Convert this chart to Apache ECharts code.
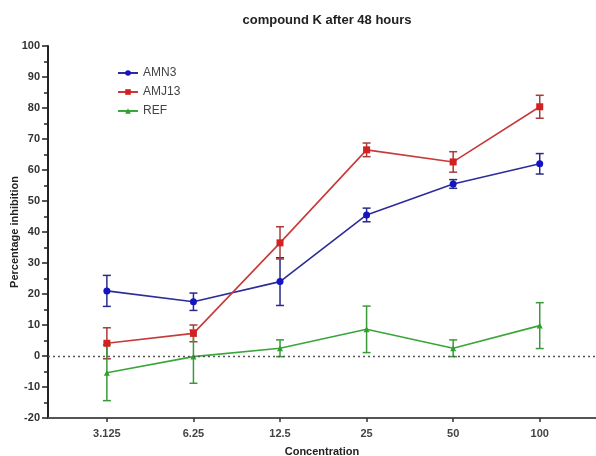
<!DOCTYPE html>
<html>
<head>
<meta charset="utf-8">
<script src="https://cdn.jsdelivr.net/npm/echarts@6/dist/echarts.min.js"></script>
<style>
  body { margin: 0; background: #fff; }
  #main { width: 596px; height: 456px; }
</style>
</head>
<body>
<div id="main"></div>
<script>
// concentrations on the x axis
const concentrations = ['3.125', '6.25', '12.5', '25', '50', '100']
// mean values
const amn3 = [21, 17.5, 24, 45.5, 55.5, 62]
const amn3Err = [5, 2.8, 7.7, 2.2, 1.4, 3.3]
const amj13 = [4.1, 7.3, 36.5, 66.5, 62.6, 80.4]
const amj13Err = [5, 2.7, 5.2, 2.2, 3.3, 3.7]
const ref = [-5.4, -0.2, 2.5, 8.6, 2.5, 9.8]
const refErr = [9, 8.6, 2.7, 7.5, 2.7, 7.4]

const idx = concentrations.map((c, i) => i)

function pts (vals) {
  return vals.map((v, i) => [i, v])
}

function errData (vals, errs) {
  return vals.map((v, i) => [i, v - errs[i], v + errs[i]])
}

function errSeries (name, vals, errs, color) {
  return {
    type: 'custom',
    name: name + ' err',
    silent: true,
    z: 1,
    data: errData(vals, errs),
    renderItem: (params, api) => {
      let lo = api.coord([api.value(0), api.value(1)])
      let hi = api.coord([api.value(0), api.value(2)])
      let w = 4
      let style = { stroke: color, lineWidth: 1.5 }
      return {
        type: 'group',
        children: [
          { type: 'line', shape: { x1: hi[0], y1: hi[1], x2: lo[0], y2: lo[1] }, style: style },
          { type: 'line', shape: { x1: hi[0] - w, y1: hi[1], x2: hi[0] + w, y2: hi[1] }, style: style },
          { type: 'line', shape: { x1: lo[0] - w, y1: lo[1], x2: lo[0] + w, y2: lo[1] }, style: style }
        ]
      }
    }
  }
}

function lineSeries (name, vals, symbol, color, lineColor, size) {
  return {
    type: 'line',
    name: name,
    data: pts(vals),
    symbol: symbol,
    symbolSize: size,
    z: 3,
    itemStyle: { color: color },
    lineStyle: { color: lineColor, width: 1.6 }
  }
}

let myChart = echarts.init(document.getElementById('main'))
myChart.setOption({
  animation: false,
  textStyle: { fontFamily: 'Liberation Sans, Arial, sans-serif' },
  title: {
    text: 'compound K after 48 hours',
    left: 322,
    top: 9,
    textAlign: 'center',
    textStyle: { fontSize: 13, fontWeight: 'bold', color: '#222' }
  },
  legend: {
    orient: 'vertical',
    left: 112,
    top: 62,
    itemGap: 7,
    itemWidth: 20,
    itemHeight: 7,
    data: ['AMN3', 'AMJ13', 'REF'],
    textStyle: { fontSize: 12, color: '#444' }
  },
  grid: { left: 48, right: 0, top: 46, bottom: 38, outerBoundsMode: 'none', containLabel: false },
  xAxis: {
    type: 'value',
    min: -0.68,
    max: 5.65,
    name: 'Concentration',
    nameLocation: 'middle',
    nameGap: 28,
    nameMoveOverlap: false,
    nameTextStyle: { fontSize: 11, fontWeight: 'bold', color: '#222' },
    splitLine: { show: false },
    axisLine: { onZero: false, lineStyle: { color: '#555', width: 2 } },
    axisTick: { customValues: idx, length: 4, lineStyle: { color: '#333', width: 1.5 } },
    axisLabel: {
      customValues: idx,
      formatter: (v) => concentrations[Math.round(v)],
      fontSize: 11,
      fontWeight: 'bold',
      color: '#444',
      margin: 10
    }
  },
  yAxis: {
    type: 'value',
    min: -20,
    max: 100,
    interval: 10,
    name: 'Percentage inhibition',
    nameLocation: 'middle',
    nameGap: 28,
    nameMoveOverlap: false,
    nameTextStyle: { fontSize: 11, fontWeight: 'bold', color: '#222' },
    splitLine: { show: false },
    axisLine: { show: true, onZero: false, lineStyle: { color: '#222', width: 2 } },
    axisTick: { length: 6, lineStyle: { color: '#222', width: 1.5 } },
    minorTick: { show: true, splitNumber: 2, length: 4, lineStyle: { color: '#222', width: 1.5 } },
    axisLabel: { fontSize: 11, fontWeight: 'bold', color: '#333', margin: 8 }
  },
  series: [
    errSeries('AMN3', amn3, amn3Err, '#2a2a8a'),
    errSeries('AMJ13', amj13, amj13Err, '#a83a3a'),
    errSeries('REF', ref, refErr, '#3a9a3a'),
    lineSeries('AMN3', amn3, 'circle', '#1414c0', '#2c2c9a', 7),
    lineSeries('AMJ13', amj13, 'rect', '#d42020', '#c83a3a', 7),
    lineSeries('REF', ref, 'triangle', '#30a030', '#3aa63a', 6),
    {
      type: 'line',
      name: 'zero',
      data: [],
      silent: true,
      markLine: {
        silent: true,
        symbol: 'none',
        label: { show: false },
        lineStyle: { color: '#555', type: [2, 3], width: 1.3 },
        data: [{ yAxis: 0 }]
      }
    }
  ]
})
</script>
</body>
</html>
